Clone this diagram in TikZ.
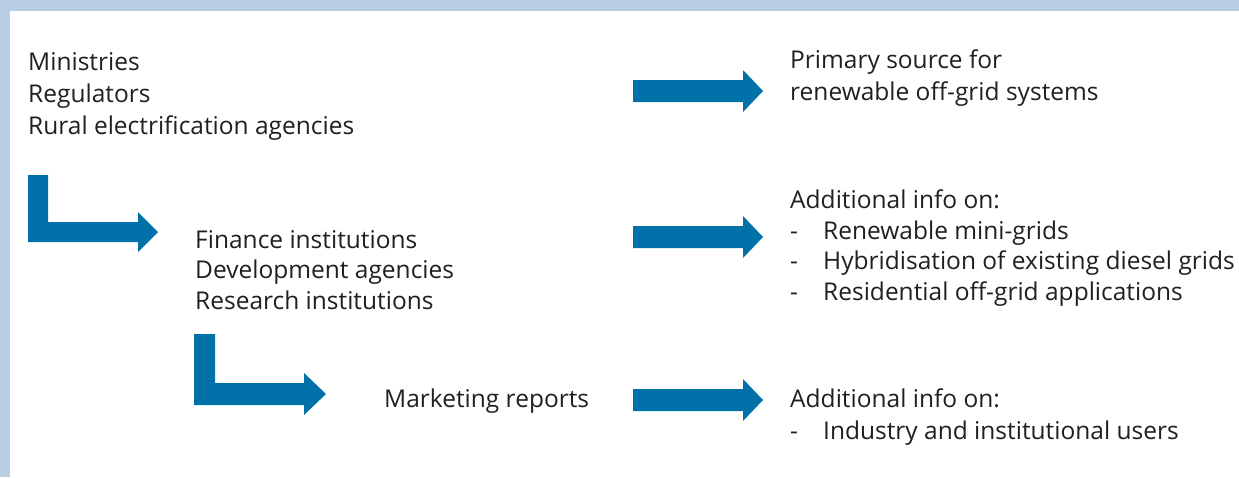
\documentclass[tikz,border=0pt]{standalone}
\usepackage{fontspec}
\setmainfont{Open Sans}
\definecolor{framebg}{RGB}{185,205,228}
\definecolor{arrowblue}{RGB}{0,112,168}
\definecolor{textgray}{RGB}{35,31,32}

\begin{document}
\begin{tikzpicture}[
    x=1pt, y=-1pt,
    txt/.style={
        anchor=base west,
        inner sep=0pt,
        text=textgray,
        font=\fontsize{24.5}{30}\selectfont
    },
    blockarrow/.style={
        fill=arrowblue,
        draw=none
    }
]

% Frame
\fill[framebg] (0,0) rectangle (1239,477);
\fill[white] (10,11) rectangle (1239,477);
\useasboundingbox (0,0) rectangle (1239,477);

% Left column
\node[txt] (mini) at (28,70) {Ministries};
\node[txt] (regu) at (28,102) {Regulators};
\node[txt] (rea) at (28,134) {Rural electrification agencies};

% Middle column
\node[txt] (fin) at (195,248) {Finance institutions};
\node[txt] (dev) at (195,278.5) {Development agencies};
\node[txt] (res) at (195,309) {Research institutions};

\node[txt] (mkt) at (384,407) {Marketing reports};

% Right column
\node[txt] (prim) at (790,68.5) {Primary source for};
\node[txt] (prim2) at (790,100.5) {renewable off-grid systems};

\node[txt] (add) at (790,208.5) {Additional info on:};
\node[txt] (mini-grid) at (790,239) {\makebox[33pt][l]{-}Renewable mini-grids};
\node[txt] (hybrid) at (790,269.5) {\makebox[33pt][l]{-}Hybridisation of existing diesel grids};
\node[txt] (resid) at (790,300) {\makebox[33pt][l]{-}Residential off-grid applications};

\node[txt] (add2) at (790,407) {Additional info on:};
\node[txt] (indus) at (790,439.5) {\makebox[33pt][l]{-}Industry and institutional users};

% Straight arrows
\fill[blockarrow] (633,80) -- (743,80) -- (743,70) -- (763,91) -- (743,112)
    -- (743,102) -- (633,102) -- cycle;
\fill[blockarrow] (633,226) -- (743,226) -- (743,216) -- (763,237) -- (743,258)
    -- (743,248) -- (633,248) -- cycle;
\fill[blockarrow] (633,389) -- (743,389) -- (743,379) -- (763,400) -- (743,421)
    -- (743,411) -- (633,411) -- cycle;

% Bent arrows
\fill[blockarrow] (28,175) -- (48,175) -- (48,222) -- (138,222) -- (138,212)
    -- (158,232) -- (138,252) -- (138,242) -- (28,242) -- cycle;
\fill[blockarrow] (194,334) -- (215,334) -- (215,383) -- (304,383) -- (304,373)
    -- (326,394) -- (304,415) -- (304,405) -- (194,405) -- cycle;

\end{tikzpicture}
\end{document}
